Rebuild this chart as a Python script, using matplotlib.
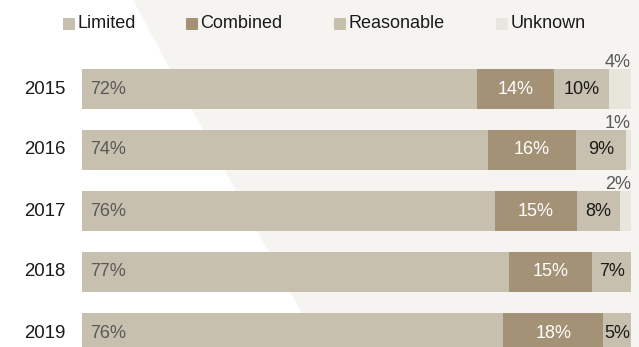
import matplotlib.pyplot as plt
import numpy as np
from matplotlib.patches import Polygon, Rectangle

plt.rcParams['font.family'] = ['Liberation Sans', 'DejaVu Sans']

years = ['2015', '2016', '2017', '2018', '2019']
limited = [72, 74, 76, 77, 76]
combined = [14, 16, 15, 15, 18]
reasonable = [10, 9, 8, 7, 5]
unknown = [4, 1, 2, 0, 0]

series_names = ['Limited', 'Combined', 'Reasonable', 'Unknown']
colors = ['#C8C0AE', '#A39276', '#C8C0AE', '#E8E5DD']
text_colors = ['#595959', '#FFFFFF', '#1A1A1A', '#595959']

W, H = 639, 347
fig = plt.figure(figsize=(W / 100, H / 100), dpi=100, facecolor='#F5F4F0')

# white slanted panel on the left side of the background
fig.patches.append(Polygon([(0, 1), (133 / W, 1), (320 / W, 0), (0, 0)],
                           closed=True, transform=fig.transFigure,
                           facecolor='white', edgecolor='none', zorder=-2))

ax = fig.add_axes([82 / W, 0, 549 / W, 1])
ax.set_facecolor('none')

data = np.array([limited, combined, reasonable, unknown], dtype=float)
shares = data / data.sum(axis=0) * 100
y = np.arange(len(years))
bar_h = 40 / 61

left = np.zeros(len(years))
for k, name in enumerate(series_names):
    ax.barh(y, shares[k], left=left, height=bar_h, color=colors[k], zorder=2)
    for i in range(len(years)):
        v = data[k, i]
        if v == 0:
            continue
        if k == 0:
            ax.text(left[i] + 1.5, y[i], f'{int(v)}%', ha='left', va='center',
                    color=text_colors[k], fontsize=13)
        elif k == 3:
            # small unknown share: label sits above the bar end
            ax.text(100, y[i] - bar_h / 2 - 0.03, f'{int(v)}%', ha='right',
                    va='baseline', color=text_colors[k], fontsize=13)
        else:
            ax.text(left[i] + shares[k, i] / 2, y[i], f'{int(v)}%',
                    ha='center', va='center', color=text_colors[k], fontsize=13)
    left += shares[k]

ax.set_xlim(0, 100)
ax.set_ylim((H - 89) / 61, -89 / 61)
ax.axis('off')

for i, yr in enumerate(years):
    ax.text(-3.0, y[i], yr, ha='right', va='center', fontsize=13.4, color='#1A1A1A')

# legend row
legend_x = [63, 186, 334, 496]
for name, c, lx in zip(series_names, colors, legend_x):
    fig.patches.append(Rectangle((lx / W, 1 - 30 / H), 12 / W, 12 / H,
                                 transform=fig.transFigure, facecolor=c,
                                 edgecolor='none', zorder=-1))
    fig.text((lx + 14.5) / W, 1 - 23 / H, name, ha='left', va='center',
             fontsize=13, color='#1A1A1A')

fig.savefig('out.png', dpi=100, facecolor=fig.get_facecolor())
